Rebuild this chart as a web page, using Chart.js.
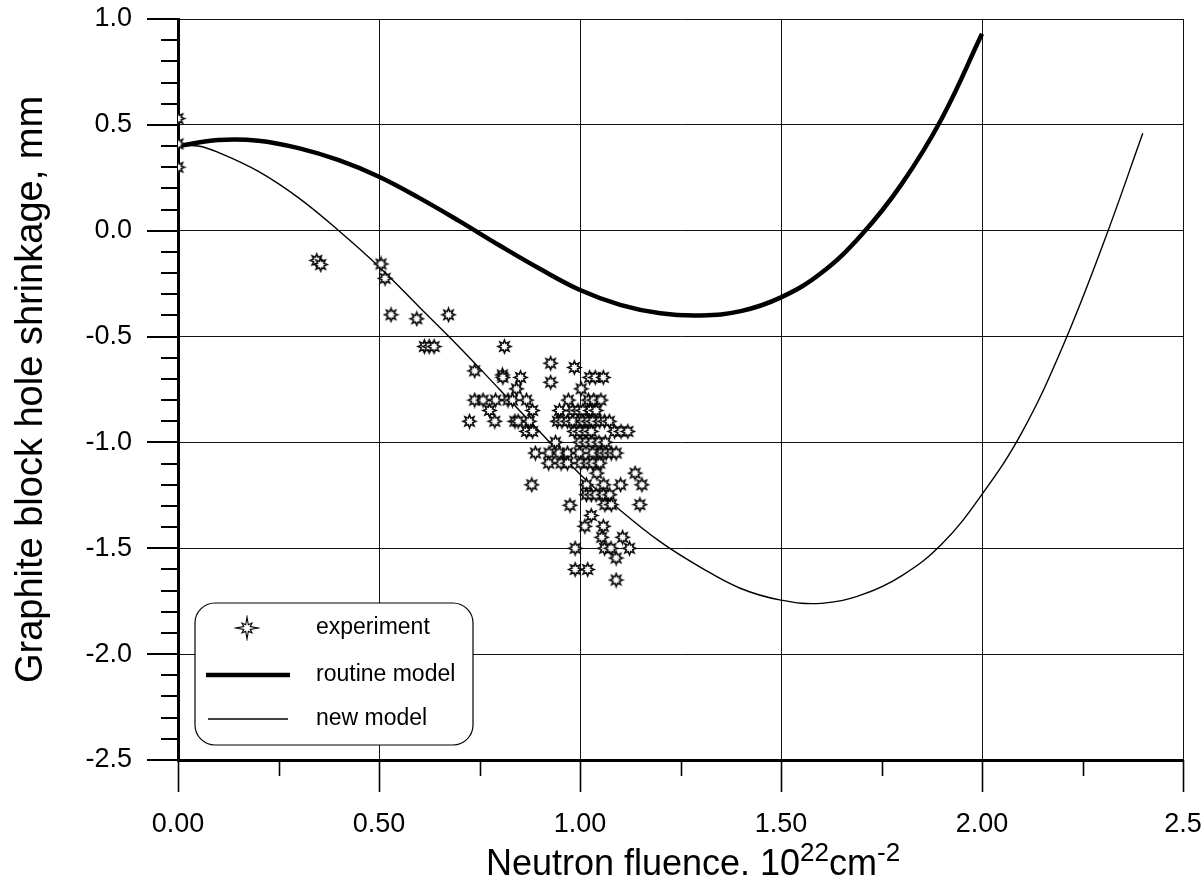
<canvas id="c" width="1203" height="890"></canvas>
<script src="https://cdn.jsdelivr.net/npm/chart.js@4.4.0/dist/chart.umd.min.js"></script>
<style>body{margin:0;background:#fff}</style>
<script>

// ---- data ----
var xTickLabels = ['0.00', '0.50', '1.00', '1.50', '2.00', '2.5'];
var yTickLabels = ['-2.5', '-2.0', '-1.5', '-1.0', '-0.5', '0.0', '0.5', '1.0'];

var routineX = [0, 0.1, 0.2, 0.3, 0.4, 0.5, 0.6, 0.7, 0.8, 0.9, 1.0, 1.1, 1.2, 1.3, 1.4, 1.5, 1.6, 1.7, 1.8, 1.9, 2.0];
var routineY = [0.40, 0.428, 0.425, 0.39, 0.333, 0.255, 0.155, 0.045, -0.07, -0.18, -0.28, -0.35, -0.39, -0.40, -0.38, -0.315, -0.20, -0.02, 0.22, 0.53, 0.93];

var newX = [0, 0.05, 0.1, 0.2, 0.3, 0.4, 0.5, 0.6, 0.7, 0.8, 0.9, 1.0, 1.1, 1.2, 1.3, 1.4, 1.5, 1.6, 1.7, 1.8, 1.9, 2.0, 2.1, 2.2, 2.3, 2.4];
var newY = [0.40, 0.40, 0.37, 0.28, 0.155, 0.0, -0.17, -0.36, -0.55, -0.75, -0.95, -1.15, -1.32, -1.47, -1.59, -1.69, -1.745, -1.76, -1.72, -1.63, -1.48, -1.245, -0.95, -0.55, -0.07, 0.46];

var expX = [0, 0, 0, 0.345, 0.355, 0.505, 0.515, 0.53, 0.594, 0.673, 0.613, 0.625, 0.637,
  0.812, 0.927, 0.986, 0.738, 0.807,
  0.808, 0.852, 1.024, 1.038, 1.058,
  0.927, 0.842, 1.003,
  0.738, 0.759, 0.79, 0.821, 0.832, 0.867, 0.971, 1.021, 1.034, 1.052,
  0.775, 0.882, 0.949, 0.982, 0.995, 1.007, 1.026, 1.04,
  0.725, 0.788, 0.838, 0.846, 0.874, 0.944, 0.955, 0.969, 0.982, 1.007, 1.02, 1.032, 1.049, 1.061, 1.073,
  0.867, 0.882, 0.986, 1.0, 1.015, 1.028, 1.086, 1.102, 1.119,
  0.939, 1.0, 1.015, 1.03, 1.047, 1.063,
  0.889, 0.923, 0.948, 0.969, 0.998, 1.032, 1.053, 1.065, 1.078, 1.09,
  0.922, 0.953, 0.969, 1.002, 1.019, 1.032, 1.049,
  1.042, 1.137,
  0.88, 1.016, 1.059, 1.101, 1.154,
  1.016, 1.028, 1.04, 1.058, 1.074,
  0.975, 1.062, 1.078, 1.149,
  1.028, 1.012, 1.058, 1.054, 1.106,
  0.988, 1.061, 1.077, 1.123, 1.09,
  0.988, 1.019, 1.09];
var expY = [0.53, 0.41, 0.30, -0.14, -0.16, -0.157, -0.225, -0.397, -0.416, -0.397, -0.547, -0.547, -0.547,
  -0.547, -0.626, -0.646, -0.662, -0.681,
  -0.693, -0.693, -0.693, -0.693, -0.693,
  -0.716, -0.747, -0.747,
  -0.80, -0.80, -0.80, -0.80, -0.80, -0.80, -0.80, -0.80, -0.80, -0.80,
  -0.849, -0.849, -0.849, -0.849, -0.849, -0.849, -0.849, -0.849,
  -0.90, -0.90, -0.90, -0.90, -0.90, -0.90, -0.90, -0.90, -0.90, -0.90, -0.90, -0.90, -0.90, -0.90, -0.90,
  -0.948, -0.948, -0.948, -0.948, -0.948, -0.948, -0.948, -0.948, -0.948,
  -0.999, -0.999, -0.999, -0.999, -0.999, -0.999,
  -1.05, -1.05, -1.05, -1.05, -1.05, -1.05, -1.05, -1.05, -1.05, -1.05,
  -1.098, -1.098, -1.098, -1.098, -1.098, -1.098, -1.098,
  -1.145, -1.145,
  -1.20, -1.20, -1.20, -1.20, -1.20,
  -1.247, -1.247, -1.247, -1.247, -1.247,
  -1.297, -1.294, -1.294, -1.294,
  -1.345, -1.396, -1.396, -1.448, -1.448,
  -1.50, -1.50, -1.50, -1.50, -1.546,
  -1.60, -1.60, -1.65];

var FONT = "'Liberation Sans', Arial, sans-serif";

// star marker drawn on a small canvas, used as pointStyle
function makeStar(rOrth, rDiag, rIn, lw)
{
    var size = Math.ceil(2 * Math.max(rOrth, rDiag) + 4);
    var cv = document.createElement('canvas');
    cv.width = size; cv.height = size;
    var g = cv.getContext('2d');
    var c = size / 2;
    g.beginPath();
    for (var k = 0; k < 16; k++)
    {
        var a = k * Math.PI / 8 - Math.PI / 2;
        var r = (k % 2 == 1) ? rIn : ((k % 4 == 0) ? rOrth : rDiag);
        var px = c + r * Math.cos(a), py = c + r * Math.sin(a);
        if (k == 0) g.moveTo(px, py); else g.lineTo(px, py);
    }
    g.closePath();
    g.fillStyle = '#fff';
    g.fill();
    g.strokeStyle = '#000';
    g.lineWidth = lw;
    g.stroke();
    return cv;
}
var pointStar = makeStar(6.5, 6.5, 3.4, 1.5);
var legendStar = makeStar(11, 7, 3.5, 1.1);

function pairs(xs, ys)
{
    return xs.map(function(x, i) { return {x: x, y: ys[i]}; });
}

// axis ticks, legend box and x title
var decor = {
    id: 'decor',
    afterDraw: function(chart)
    {
        var ctx = chart.ctx;
        var xs = chart.scales.x, ys = chart.scales.y;
        var a = chart.chartArea;
        ctx.save();
        ctx.strokeStyle = '#000';

        // bottom ticks, every 0.25
        ctx.lineWidth = 1.6;
        for (var k = 0; k <= 10; k++)
        {
            var px = Math.round(xs.getPixelForValue(k * 0.25)) + 0.5;
            ctx.beginPath();
            ctx.moveTo(px, a.bottom);
            ctx.lineTo(px, a.bottom + (k % 2 == 0 ? 32 : 16));
            ctx.stroke();
        }
        // left ticks, every 0.1
        ctx.lineWidth = 2;
        for (var k = 0; k <= 35; k++)
        {
            var py = Math.round(ys.getPixelForValue(-2.5 + k * 0.1));
            ctx.beginPath();
            ctx.moveTo(a.left - (k % 5 == 0 ? 31 : 17), py);
            ctx.lineTo(a.left, py);
            ctx.stroke();
        }

        // x axis title with superscripts
        var parts = [['Neutron fluence. 10', 36, 0], ['22', 26, -14], ['cm', 36, 0], ['-2', 26, -14]];
        var total = 0;
        parts.forEach(function(p) { ctx.font = p[1] + 'px ' + FONT; total += ctx.measureText(p[0]).width; });
        var tx = 693 - total / 2;
        ctx.fillStyle = '#000';
        ctx.textBaseline = 'alphabetic';
        ctx.textAlign = 'left';
        parts.forEach(function(p) {
            ctx.font = p[1] + 'px ' + FONT;
            ctx.fillText(p[0], tx, 875 + p[2]);
            tx += ctx.measureText(p[0]).width;
        });

        // legend box
        var bx = 195, by = 603, bw = 278, bh = 142;
        ctx.beginPath();
        ctx.roundRect(bx, by, bw, bh, 20);
        ctx.fillStyle = '#fff';
        ctx.fill();
        ctx.lineWidth = 1.2;
        ctx.stroke();

        var ds = chart.data.datasets;
        ctx.drawImage(legendStar, 247 - legendStar.width / 2, 628 - legendStar.height / 2);
        ctx.lineWidth = ds[1].borderWidth;
        ctx.beginPath(); ctx.moveTo(206, 675); ctx.lineTo(290, 675); ctx.stroke();
        ctx.lineWidth = ds[2].borderWidth;
        ctx.beginPath(); ctx.moveTo(208, 719); ctx.lineTo(288, 719); ctx.stroke();

        ctx.fillStyle = '#000';
        ctx.font = '23px ' + FONT;
        ctx.textBaseline = 'middle';
        ctx.fillText(ds[0].label, 316, 628);
        ctx.fillText(ds[1].label, 316, 675);
        ctx.fillText(ds[2].label, 316, 719);
        ctx.restore();
    }
};

var ctx = document.getElementById('c').getContext('2d');
var chart = new Chart(ctx, {
    type: 'scatter',
    data: {
        datasets: [
            {
                label: 'experiment',
                data: pairs(expX, expY),
                pointStyle: pointStar,
                pointRadius: 6,
                showLine: false
            },
            {
                label: 'routine model',
                data: pairs(routineX, routineY),
                showLine: true,
                borderColor: '#000',
                borderWidth: 4.5,
                pointRadius: 0,
                tension: 0.4
            },
            {
                label: 'new model',
                data: pairs(newX, newY),
                showLine: true,
                borderColor: '#000',
                borderWidth: 1.4,
                pointRadius: 0,
                tension: 0.4
            }
        ]
    },
    options: {
        responsive: false,
        animation: false,
        layout: {padding: {top: 19, right: 20, left: 0, bottom: 0}},
        plugins: {legend: {display: false}, tooltip: {enabled: false}},
        scales: {
            x: {
                type: 'linear', min: 0, max: 2.5,
                afterFit: function(s) { s.height = 130; s.paddingLeft = 0; s.paddingRight = 0; },
                ticks: {
                    stepSize: 0.5, padding: 48, color: '#000', maxRotation: 0, autoSkip: false,
                    font: {size: 27, family: FONT},
                    callback: function(v, i) { return xTickLabels[i]; }
                },
                grid: {color: '#111', lineWidth: 1, drawTicks: false},
                border: {color: '#000', width: 3}
            },
            y: {
                type: 'linear', min: -2.5, max: 1.0,
                afterFit: function(s) { s.width = 178; s.paddingTop = 0; s.paddingBottom = 0; },
                ticks: {
                    stepSize: 0.5, padding: 46, color: '#000', autoSkip: false,
                    font: {size: 27, family: FONT},
                    callback: function(v, i) { return yTickLabels[i]; }
                },
                grid: {color: '#111', lineWidth: 1, drawTicks: false},
                border: {color: '#000', width: 3},
                title: {
                    display: true, text: 'Graphite block hole shrinkage, mm', color: '#000',
                    font: {size: 38, family: FONT}, padding: {top: 9, bottom: 0}
                }
            }
        }
    },
    plugins: [decor]
});
</script>
